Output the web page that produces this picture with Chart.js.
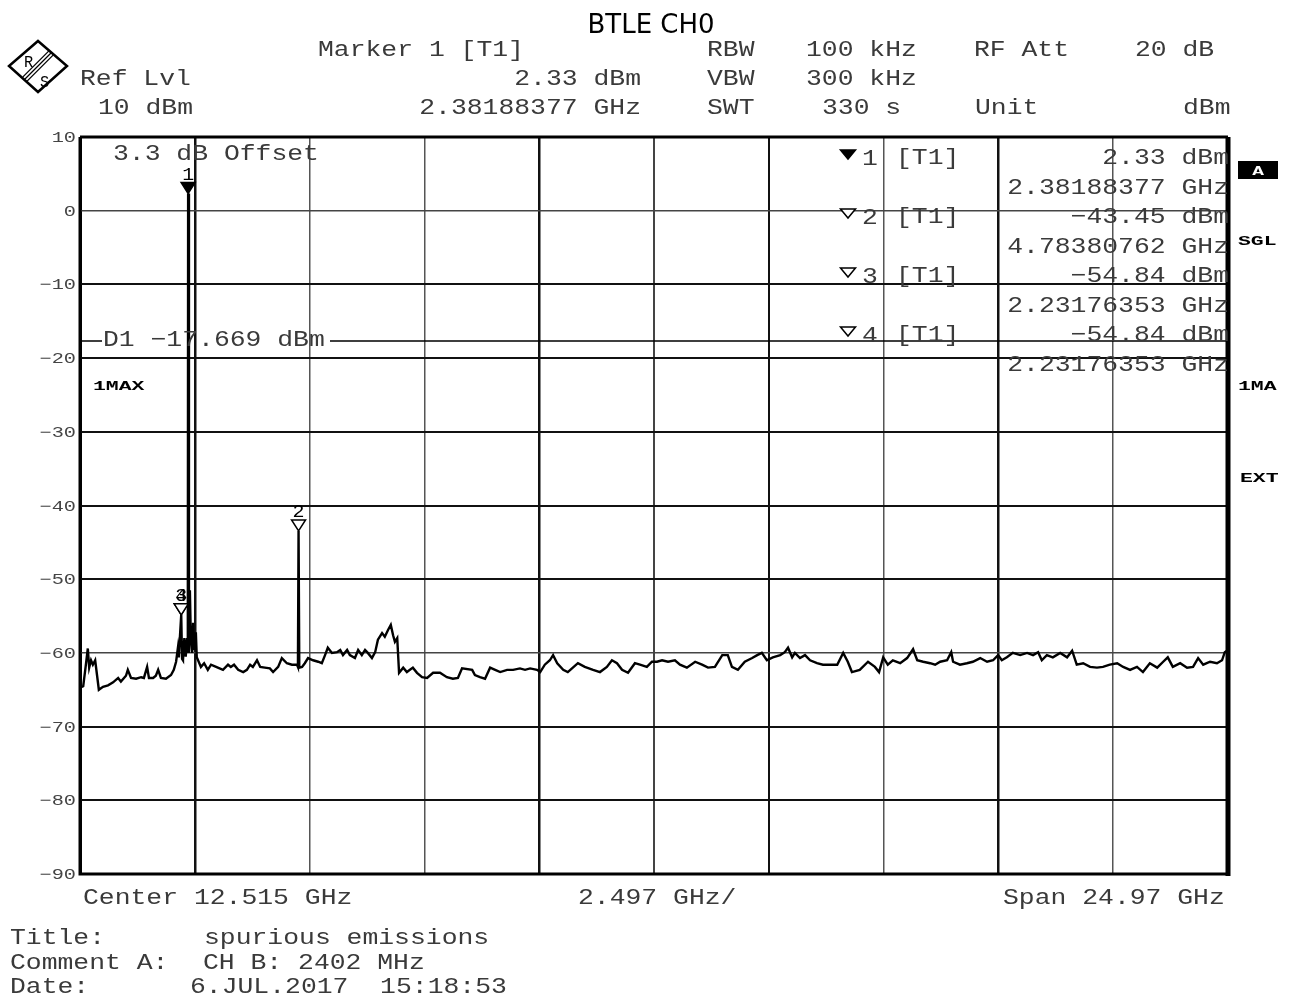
<!DOCTYPE html>
<html>
<head>
<meta charset="utf-8">
<title>BTLE CH0</title>
<script src="https://cdn.jsdelivr.net/npm/chart.js@4.4.1/dist/chart.umd.min.js"></script>
<style>
  html, body { margin: 0; padding: 0; background: #fff; }
  canvas { display: block; }
</style>
</head>
<body>
<canvas id="spectrum" width="1292" height="994"></canvas>
<script>
// trace 1 (max hold)
const freqGHz = [
  0.03, 0.10, 0.15, 0.20, 0.23, 0.27, 0.31, 0.36, 0.40, 0.44, 0.53, 0.64, 0.75, 0.86, 0.92,
  1.03, 1.07, 1.14, 1.25, 1.36, 1.42, 1.49, 1.53, 1.62, 1.68, 1.73, 1.79, 1.90, 2.01, 2.07,
  2.12, 2.16, 2.18, 2.20, 2.23176, 2.25, 2.27, 2.30, 2.33, 2.36, 2.375, 2.38188, 2.40, 2.42, 2.44,
  2.47, 2.49, 2.51, 2.55, 2.57, 2.66, 2.73, 2.81, 2.88, 2.99, 3.14, 3.25, 3.31, 3.38, 3.47,
  3.58, 3.66, 3.73, 3.79, 3.88, 3.95, 4.05, 4.16, 4.23, 4.34, 4.42, 4.53, 4.64, 4.75, 4.77,
  4.7838, 4.80, 4.86, 4.92, 4.99, 5.10, 5.21, 5.29, 5.36, 5.42, 5.51, 5.62, 5.69, 5.75, 5.84,
  5.90, 6.01, 6.08, 6.16, 6.23, 6.29, 6.38, 6.45, 6.51, 6.60, 6.66, 6.73, 6.79, 6.84, 6.88,
  6.93, 6.97, 7.06, 7.14, 7.27, 7.36, 7.47, 7.58, 7.71, 7.86, 8.01, 8.14, 8.25, 8.34, 8.56,
  8.62, 8.73, 8.84, 8.95, 9.06, 9.17, 9.32, 9.45, 9.60, 9.71, 9.82, 9.97, 10.04, 10.14, 10.25,
  10.32, 10.41, 10.54, 10.64, 10.75, 10.86, 11.01, 11.19, 11.34, 11.49, 11.60, 11.71, 11.82, 11.95, 12.10,
  12.21, 12.36, 12.47, 12.58, 12.69, 12.82, 12.97, 13.08, 13.23, 13.41, 13.56, 13.69, 13.84, 14.00, 14.12,
  14.21, 14.34, 14.49, 14.65, 14.76, 14.86, 14.97, 15.10, 15.26, 15.36, 15.43, 15.52, 15.58, 15.69, 15.80,
  15.91, 16.06, 16.19, 16.34, 16.50, 16.63, 16.73, 16.82, 16.99, 17.17, 17.32, 17.41, 17.50, 17.60, 17.71,
  17.87, 18.02, 18.15, 18.24, 18.37, 18.52, 18.63, 18.74, 18.89, 18.98, 19.02, 19.17, 19.32, 19.45, 19.61,
  19.76, 19.89, 20.00, 20.08, 20.19, 20.32, 20.48, 20.63, 20.76, 20.87, 20.95, 21.06, 21.19, 21.35, 21.50,
  21.61, 21.71, 21.85, 22.00, 22.15, 22.28, 22.43, 22.59, 22.72, 22.87, 23.02, 23.15, 23.30, 23.46, 23.59,
  23.69, 23.80, 23.96, 24.11, 24.24, 24.35, 24.46, 24.61, 24.76, 24.87, 24.93, 25.00
];
const levelDbm = [
  -64.7, -64.5, -62.0, -59.4, -62.0, -61.0, -61.6, -61.0, -63.0, -65.0, -64.6, -64.4, -64.0, -63.4, -63.9,
  -63.1, -62.3, -63.4, -63.5, -63.3, -63.4, -61.9, -63.4, -63.4, -63.1, -62.3, -63.4, -63.5, -63.0, -62.3,
  -61.2, -59.3, -60.6, -58.2, -54.84, -60.8, -61.0, -58.0, -60.5, -58.0, -60.0, 2.33, -60.0, -51.5, -57.8,
  -60.0, -55.9, -59.6, -57.2, -60.6, -61.9, -61.4, -62.3, -61.6, -61.9, -62.3, -61.6, -61.9, -61.6, -62.3,
  -62.6, -62.3, -61.6, -61.9, -61.0, -61.9, -62.0, -62.1, -62.6, -61.9, -60.7, -61.4, -61.6, -61.6, -61.9,
  -43.45, -62.0, -61.9, -61.4, -60.7, -61.0, -61.2, -61.4, -60.3, -59.3, -60.0, -59.9, -59.6, -60.3, -59.6,
  -60.3, -60.7, -59.6, -60.3, -59.6, -60.0, -60.7, -59.9, -58.2, -57.3, -57.8, -56.9, -56.2, -57.6, -58.5,
  -58.0, -62.7, -62.0, -62.6, -62.0, -62.7, -63.3, -63.4, -62.7, -62.7, -63.3, -63.5, -63.4, -62.1, -62.3,
  -63.0, -63.3, -63.5, -62.0, -62.3, -62.6, -62.3, -62.3, -62.1, -62.3, -62.1, -62.3, -62.6, -61.6, -61.0,
  -60.3, -61.4, -62.3, -62.6, -62.0, -61.4, -61.9, -62.3, -62.6, -61.9, -61.0, -61.4, -62.3, -62.7, -61.4,
  -61.6, -61.9, -61.2, -61.2, -61.0, -61.2, -61.0, -61.6, -62.0, -61.2, -61.6, -62.0, -61.9, -60.3, -60.3,
  -61.9, -62.3, -61.2, -60.7, -60.3, -60.0, -61.0, -60.6, -60.3, -59.9, -59.3, -60.6, -60.0, -60.7, -60.3,
  -61.0, -61.4, -61.6, -61.6, -61.6, -60.0, -61.2, -62.6, -62.3, -61.2, -61.9, -62.6, -60.6, -61.6, -61.0,
  -61.4, -60.7, -59.5, -61.0, -61.2, -61.4, -61.6, -61.2, -61.0, -59.9, -61.2, -61.6, -61.4, -61.2, -60.7,
  -61.2, -61.0, -60.3, -61.0, -60.6, -60.0, -60.3, -60.0, -60.3, -59.9, -61.0, -60.3, -60.6, -60.0, -60.6,
  -59.7, -61.6, -61.4, -61.9, -62.0, -61.9, -61.6, -61.4, -61.9, -62.3, -61.9, -62.6, -61.4, -62.0, -61.2,
  -60.6, -61.9, -61.4, -62.0, -61.9, -60.7, -61.6, -61.2, -61.4, -61.0, -59.9, -59.6
];

// 10 divisions of 2.497 GHz, centre 12.515 GHz
const xGridGHz = [0.03, 2.527, 5.024, 7.521, 10.018, 12.515, 15.012, 17.509, 20.006, 22.503, 25.0];
const yTickValues = [10, 0, -10, -20, -30, -40, -50, -60, -70, -80, -90];
const yTickLabels = ['10', '0', '−10', '−20', '−30', '−40', '−50', '−60', '−70', '−80', '−90'];

const markerNames = ['1', '2', '3', '4'];
const markerFreqGHz = [2.38188377, 4.78380762, 2.23176353, 2.23176353];
const markerLevelDbm = [2.33, -43.45, -54.84, -54.84];
const displayLineDbm = -17.669;

const MONO = '"Liberation Mono", "DejaVu Sans Mono", monospace';

function txt(ctx, s, x, y, o = {}) {
  const size = o.size || 22, sx = o.sx || 1.2;
  ctx.save();
  ctx.font = (o.bold ? 'bold ' : '') + size + 'px ' + MONO;
  ctx.fillStyle = o.color || '#3a3a3a';
  ctx.textAlign = o.align || 'left';
  ctx.textBaseline = 'alphabetic';
  ctx.translate(x, y);
  ctx.scale(sx, 1);
  ctx.fillText(s, 0, 0);
  ctx.restore();
}

function tri(ctx, x, tipY, w, h, filled) {
  ctx.save();
  ctx.beginPath();
  ctx.moveTo(x - w / 2, tipY - h);
  ctx.lineTo(x + w / 2, tipY - h);
  ctx.lineTo(x, tipY);
  ctx.closePath();
  ctx.fillStyle = filled ? '#000' : '#fff';
  ctx.fill();
  ctx.lineWidth = 1.5;
  ctx.strokeStyle = '#000';
  ctx.stroke();
  ctx.restore();
}

function fmtLevel(v) { return v.toFixed(2).replace('-', '−') + ' dBm'; }
function fmtFreq(v) { return v.toFixed(8) + ' GHz'; }

const xLineStyle = ['#000', '#111', '#555', '#555', '#111', '#444', '#111', '#555', '#111', '#555', '#000'];
const xLineWidth = [3, 2.5, 1.5, 1.5, 2.5, 2, 2, 1.5, 2.5, 1.5, 3];

const overlay = {
  id: 'overlay',
  beforeDatasetsDraw(chart) {
    const ctx = chart.ctx, a = chart.chartArea, ys = chart.scales.y;
    const py = ys.getPixelForValue(displayLineDbm);
    ctx.save();
    ctx.strokeStyle = '#000';
    ctx.lineWidth = 1.5;
    ctx.beginPath();
    ctx.moveTo(a.left, py); ctx.lineTo(102, py);
    ctx.moveTo(330, py); ctx.lineTo(a.right, py);
    ctx.stroke();
    ctx.restore();
  },
  afterDraw(chart) {
    const ctx = chart.ctx, a = chart.chartArea;
    const xs = chart.scales.x, ys = chart.scales.y;

    // frame
    ctx.save();
    ctx.strokeStyle = '#000';
    ctx.lineWidth = 3;
    ctx.beginPath();
    ctx.moveTo(a.left, a.top); ctx.lineTo(a.right, a.top);
    ctx.moveTo(a.left, a.top); ctx.lineTo(a.left, a.bottom); ctx.lineTo(a.right, a.bottom);
    ctx.stroke();
    ctx.lineWidth = 5;
    ctx.beginPath();
    ctx.moveTo(a.right, a.top); ctx.lineTo(a.right, a.bottom + 2);
    ctx.stroke();
    ctx.restore();

    // y tick labels
    ys.ticks.forEach(t => {
      const i = yTickValues.indexOf(t.value);
      if (i < 0) return;
      txt(ctx, yTickLabels[i], a.left - 4, ys.getPixelForValue(t.value) + 5,
        { size: 15, sx: 1.35, align: 'right', color: '#444' });
    });

    // title
    ctx.save();
    ctx.font = '26px "DejaVu Sans", sans-serif';
    ctx.fillStyle = '#000';
    ctx.textAlign = 'center';
    ctx.fillText('BTLE CH0', 651, 33);
    ctx.restore();

    // R&S logo
    ctx.save();
    ctx.strokeStyle = '#000';
    ctx.lineWidth = 2.5;
    ctx.beginPath();
    ctx.moveTo(38, 41); ctx.lineTo(67, 66); ctx.lineTo(38, 92); ctx.lineTo(9, 66);
    ctx.closePath();
    ctx.stroke();
    ctx.lineWidth = 1.3;
    [-3, 0, 3].forEach(k => {
      ctx.beginPath();
      ctx.moveTo(25 + k * 0.7, 79 + k * 0.7);
      ctx.lineTo(51 + k * 0.7, 53 + k * 0.7);
      ctx.stroke();
    });
    ctx.restore();
    txt(ctx, 'R', 24, 67, { size: 17, sx: 0.9, color: '#000' });
    txt(ctx, 'S', 40, 87, { size: 17, sx: 0.9, color: '#000' });

    // header block
    txt(ctx, 'Marker 1 [T1]', 318, 56);
    txt(ctx, 'RBW', 707, 56);
    txt(ctx, '100 kHz', 806, 56);
    txt(ctx, 'RF Att', 974, 56);
    txt(ctx, '20 dB', 1135, 56);
    txt(ctx, 'Ref Lvl', 80, 85);
    txt(ctx, fmtLevel(markerLevelDbm[0]), 641, 85, { align: 'right' });
    txt(ctx, 'VBW', 707, 85);
    txt(ctx, '300 kHz', 806, 85);
    txt(ctx, '10 dBm', 98, 114);
    txt(ctx, fmtFreq(markerFreqGHz[0]), 641, 114, { align: 'right' });
    txt(ctx, 'SWT', 707, 114);
    txt(ctx, '330 s', 822, 114);
    txt(ctx, 'Unit', 975, 114);
    txt(ctx, 'dBm', 1183, 114);

    // in-plot annotations
    txt(ctx, '3.3 dB Offset', 113, 160);
    txt(ctx, 'D1 −17.669 dBm', 103, 346);
    txt(ctx, '1MAX', 93, 390, { size: 13, sx: 1.65, bold: true, color: '#000' });

    // marker table
    markerNames.forEach((n, i) => {
      const b = 164 + i * 59;
      tri(ctx, 848, b - 5, 15, 9, i === 0);
      txt(ctx, n, 862, b + 1);
      txt(ctx, '[T1]', 896, b);
      txt(ctx, fmtLevel(markerLevelDbm[i]), 1229, b, { align: 'right' });
      txt(ctx, fmtFreq(markerFreqGHz[i]), 1229, b + 30, { align: 'right' });
    });

    // markers on the trace
    markerNames.forEach((n, i) => {
      const px = xs.getPixelForValue(markerFreqGHz[i]);
      const py = ys.getPixelForValue(markerLevelDbm[i]);
      tri(ctx, px, py, 14, 11, i === 0);
      txt(ctx, n, px, py - 14, { size: 19, sx: 1.05, align: 'center', color: '#000' });
    });

    // right-hand status labels
    ctx.save();
    ctx.fillStyle = '#000';
    ctx.fillRect(1238, 161, 40, 18);
    ctx.restore();
    txt(ctx, 'A', 1258, 175, { size: 13, sx: 1.5, bold: true, color: '#fff', align: 'center' });
    txt(ctx, 'SGL', 1238, 245, { size: 13, sx: 1.65, bold: true, color: '#000' });
    txt(ctx, '1MA', 1238, 390, { size: 13, sx: 1.65, bold: true, color: '#000' });
    txt(ctx, 'EXT', 1240, 482, { size: 13, sx: 1.65, bold: true, color: '#000' });

    // x-axis annotations
    txt(ctx, 'Center 12.515 GHz', 83, 904);
    txt(ctx, '2.497 GHz/', 578, 904);
    txt(ctx, 'Span 24.97 GHz', 1003, 904);

    // footer
    txt(ctx, 'Title:', 10, 944);
    txt(ctx, 'spurious emissions', 204, 944);
    txt(ctx, 'Comment A:', 10, 969);
    txt(ctx, 'CH B: 2402 MHz', 203, 969);
    txt(ctx, 'Date:', 10, 993);
    txt(ctx, '6.JUL.2017  15:18:53', 190, 993);
  }
};

new Chart(document.getElementById('spectrum'), {
  type: 'line',
  data: {
    datasets: [{
      label: 'Trace 1',
      data: freqGHz.map((f, i) => ({ x: f, y: levelDbm[i] })),
      borderColor: '#000',
      borderWidth: 2.4,
      pointRadius: 0,
      tension: 0,
      fill: false
    }]
  },
  options: {
    responsive: false,
    animation: false,
    layout: { padding: { top: 137, right: 64, bottom: 120, left: 0 } },
    plugins: { legend: { display: false }, tooltip: { enabled: false } },
    scales: {
      x: {
        type: 'linear',
        min: xGridGHz[0],
        max: xGridGHz[xGridGHz.length - 1],
        afterBuildTicks(s) { s.ticks = xGridGHz.map(v => ({ value: v })); },
        afterFit(s) { s.height = 0; },
        ticks: { display: false },
        border: { display: false },
        grid: {
          drawTicks: false,
          color: c => xLineStyle[c.index] || '#555',
          lineWidth: c => xLineWidth[c.index] || 1.5
        }
      },
      y: {
        min: -90,
        max: 10,
        ticks: { display: false, stepSize: 10 },
        afterFit(s) { s.width = 80; },
        border: { display: false },
        grid: {
          drawTicks: false,
          color: c => (c.tick && (c.tick.value === -60 || c.tick.value === 0)) ? '#444' : '#111',
          lineWidth: c => (c.tick && (c.tick.value === -60 || c.tick.value === 0)) ? 1.5 : 2
        }
      }
    }
  },
  plugins: [overlay]
});
</script>
</body>
</html>
